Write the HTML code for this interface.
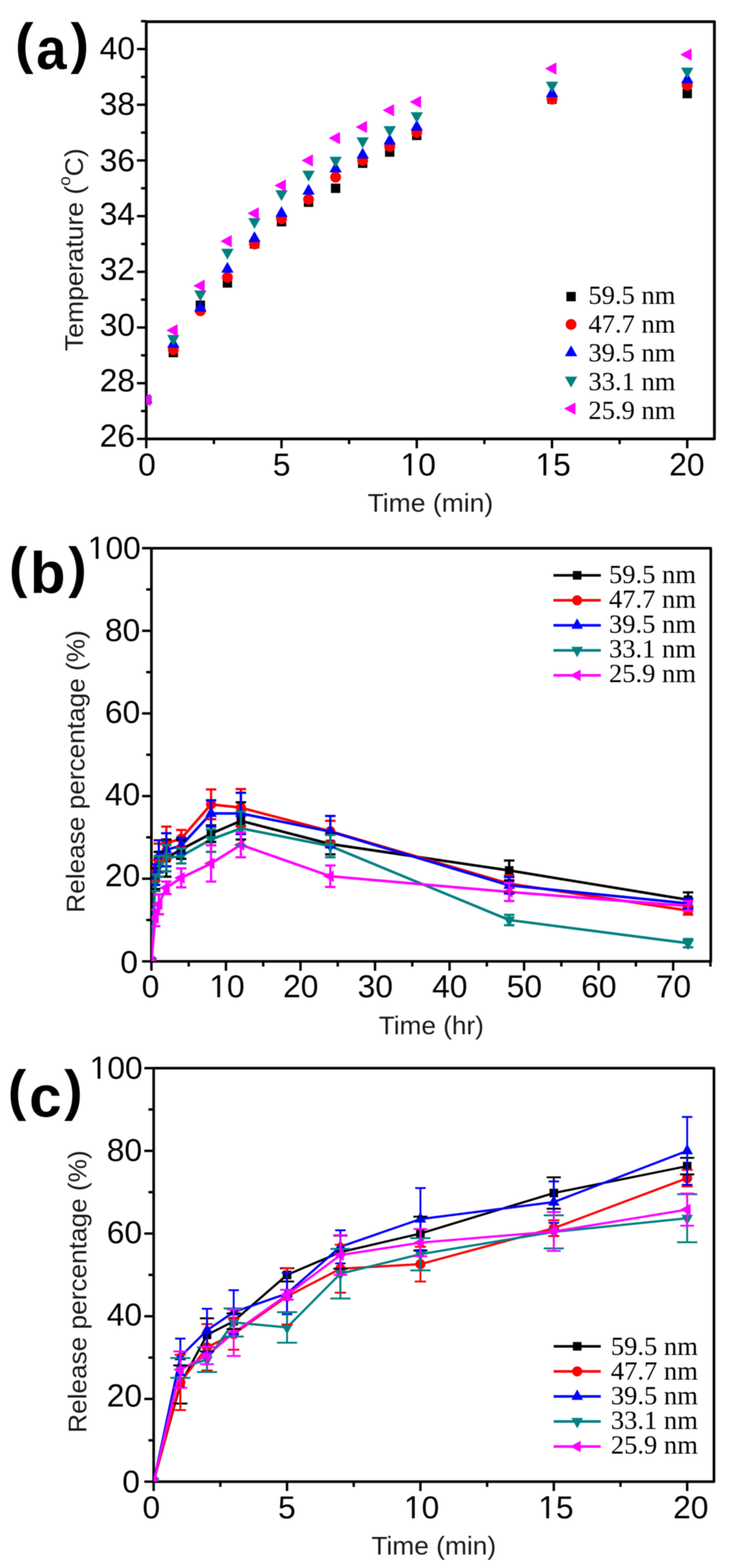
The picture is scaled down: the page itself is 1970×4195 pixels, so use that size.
<!DOCTYPE html>
<html lang="en">
<head>
<meta charset="utf-8">
<title>Temperature and release percentage versus time</title>
<style>
html, body { margin: 0; padding: 0; background: #ffffff; }
body { width: 1970px; height: 4195px; overflow: hidden; }
svg { display: block; }
</style>
</head>
<body>
<svg width="1970" height="4195" viewBox="0 0 1970 4195">
<rect width="1970" height="4195" fill="#ffffff"/>
<defs>
<filter id="soft" x="0" y="0" width="1970" height="4195" filterUnits="userSpaceOnUse" color-interpolation-filters="sRGB"><feGaussianBlur stdDeviation="1.1"/></filter>
<clipPath id="one-mid2"><path d="M-200 -100H200V40H-200Z M-43.27 -7.95H-25.95V2H-43.27Z M-18.34 -7.95H-2.15V2H-18.34Z" clip-rule="evenodd"/></clipPath>
<clipPath id="one-end3"><path d="M-200 -100H200V40H-200Z M-137.82 -7.95H-120.49V2H-137.82Z M-112.88 -7.95H-96.70V2H-112.88Z" clip-rule="evenodd"/></clipPath>
<clipPath id="clip-a"><rect x="391.5" y="58" width="1520.7" height="1116.2"/></clipPath>
<clipPath id="clip-b"><rect x="405.3" y="1466.8" width="1497.2" height="1105.2"/></clipPath>
<clipPath id="clip-c"><rect x="411.3" y="2857.7" width="1499.7" height="1106.3"/></clipPath>
</defs>
<g filter="url(#soft)">
<rect width="1970" height="4195" fill="#ffffff"/>
<!-- panel (a) -->
<g id="panel-a">
<g stroke="#000" stroke-width="7.5" fill="none" stroke-linecap="butt" stroke-linejoin="round">
<rect x="391.5" y="58" width="1520.7" height="1116.2"/>
</g>
<g stroke="#000" stroke-width="6.5" fill="none" stroke-linecap="butt">
<line x1="391.5" y1="1174.2" x2="391.5" y2="1199.2"/>
<line x1="753.5" y1="1174.2" x2="753.5" y2="1199.2"/>
<line x1="1115.5" y1="1174.2" x2="1115.5" y2="1199.2"/>
<line x1="1477.5" y1="1174.2" x2="1477.5" y2="1199.2"/>
<line x1="1839.5" y1="1174.2" x2="1839.5" y2="1199.2"/>
<line x1="572.5" y1="1174.2" x2="572.5" y2="1188.2"/>
<line x1="934.5" y1="1174.2" x2="934.5" y2="1188.2"/>
<line x1="1296.5" y1="1174.2" x2="1296.5" y2="1188.2"/>
<line x1="1658.5" y1="1174.2" x2="1658.5" y2="1188.2"/>
<line x1="391.5" y1="1174.2" x2="366.5" y2="1174.2"/>
<line x1="391.5" y1="1025.2" x2="366.5" y2="1025.2"/>
<line x1="391.5" y1="876.2" x2="366.5" y2="876.2"/>
<line x1="391.5" y1="727.2" x2="366.5" y2="727.2"/>
<line x1="391.5" y1="578.2" x2="366.5" y2="578.2"/>
<line x1="391.5" y1="429.2" x2="366.5" y2="429.2"/>
<line x1="391.5" y1="280.2" x2="366.5" y2="280.2"/>
<line x1="391.5" y1="131.2" x2="366.5" y2="131.2"/>
<line x1="391.5" y1="1099.7" x2="377.5" y2="1099.7"/>
<line x1="391.5" y1="950.7" x2="377.5" y2="950.7"/>
<line x1="391.5" y1="801.7" x2="377.5" y2="801.7"/>
<line x1="391.5" y1="652.7" x2="377.5" y2="652.7"/>
<line x1="391.5" y1="503.7" x2="377.5" y2="503.7"/>
<line x1="391.5" y1="354.7" x2="377.5" y2="354.7"/>
<line x1="391.5" y1="205.7" x2="377.5" y2="205.7"/>
<line x1="391.5" y1="56.7" x2="377.5" y2="56.7"/>
</g>
<g clip-path="url(#clip-a)">
<g><rect x="379" y="1057.4" width="25" height="25" fill="#000000"/>
<rect x="451.4" y="930.8" width="25" height="25" fill="#000000"/>
<rect x="523.8" y="804.1" width="25" height="25" fill="#000000"/>
<rect x="596.2" y="744.5" width="25" height="25" fill="#000000"/>
<rect x="668.6" y="640.2" width="25" height="25" fill="#000000"/>
<rect x="741" y="580.6" width="25" height="25" fill="#000000"/>
<rect x="813.4" y="528.5" width="25" height="25" fill="#000000"/>
<rect x="885.8" y="491.2" width="25" height="25" fill="#000000"/>
<rect x="958.2" y="424.2" width="25" height="25" fill="#000000"/>
<rect x="1030.6" y="394.4" width="25" height="25" fill="#000000"/>
<rect x="1103" y="349.7" width="25" height="25" fill="#000000"/>
<rect x="1465" y="252.8" width="25" height="25" fill="#000000"/>
<rect x="1827" y="237.9" width="25" height="25" fill="#000000"/></g>
<g><circle cx="391.5" cy="1069.9" r="14.5" fill="#ff0000"/>
<circle cx="463.9" cy="935.8" r="14.5" fill="#ff0000"/>
<circle cx="536.3" cy="831.5" r="14.5" fill="#ff0000"/>
<circle cx="608.7" cy="742.1" r="14.5" fill="#ff0000"/>
<circle cx="681.1" cy="652.7" r="14.5" fill="#ff0000"/>
<circle cx="753.5" cy="585.7" r="14.5" fill="#ff0000"/>
<circle cx="825.9" cy="533.5" r="14.5" fill="#ff0000"/>
<circle cx="898.3" cy="473.9" r="14.5" fill="#ff0000"/>
<circle cx="970.7" cy="429.2" r="14.5" fill="#ff0000"/>
<circle cx="1043.1" cy="392" r="14.5" fill="#ff0000"/>
<circle cx="1115.5" cy="354.7" r="14.5" fill="#ff0000"/>
<circle cx="1477.5" cy="265.3" r="14.5" fill="#ff0000"/>
<circle cx="1839.5" cy="228" r="14.5" fill="#ff0000"/></g>
<g><polygon points="391.5,1050.6 375,1079.6 408,1079.6" fill="#0000ff"/>
<polygon points="463.9,901.6 447.4,930.6 480.4,930.6" fill="#0000ff"/>
<polygon points="536.3,804.7 519.8,833.7 552.8,833.7" fill="#0000ff"/>
<polygon points="608.7,700.4 592.2,729.4 625.2,729.4" fill="#0000ff"/>
<polygon points="681.1,618.5 664.6,647.5 697.6,647.5" fill="#0000ff"/>
<polygon points="753.5,551.4 737,580.4 770,580.4" fill="#0000ff"/>
<polygon points="825.9,491.8 809.4,520.8 842.4,520.8" fill="#0000ff"/>
<polygon points="898.3,432.2 881.8,461.2 914.8,461.2" fill="#0000ff"/>
<polygon points="970.7,395 954.2,424 987.2,424" fill="#0000ff"/>
<polygon points="1043.1,357.7 1026.6,386.7 1059.6,386.7" fill="#0000ff"/>
<polygon points="1115.5,320.5 1099,349.5 1132,349.5" fill="#0000ff"/>
<polygon points="1477.5,231.1 1461,260.1 1494,260.1" fill="#0000ff"/>
<polygon points="1839.5,193.8 1823,222.8 1856,222.8" fill="#0000ff"/></g>
<g><polygon points="391.5,1089.2 375,1060.2 408,1060.2" fill="#008080"/>
<polygon points="463.9,925.3 447.4,896.3 480.4,896.3" fill="#008080"/>
<polygon points="536.3,806.1 519.8,777.1 552.8,777.1" fill="#008080"/>
<polygon points="608.7,694.4 592.2,665.4 625.2,665.4" fill="#008080"/>
<polygon points="681.1,612.4 664.6,583.4 697.6,583.4" fill="#008080"/>
<polygon points="753.5,537.9 737,508.9 770,508.9" fill="#008080"/>
<polygon points="825.9,485.8 809.4,456.8 842.4,456.8" fill="#008080"/>
<polygon points="898.3,448.5 881.8,419.5 914.8,419.5" fill="#008080"/>
<polygon points="970.7,396.4 954.2,367.4 987.2,367.4" fill="#008080"/>
<polygon points="1043.1,366.6 1026.6,337.6 1059.6,337.6" fill="#008080"/>
<polygon points="1115.5,329.3 1099,300.3 1132,300.3" fill="#008080"/>
<polygon points="1477.5,247.4 1461,218.4 1494,218.4" fill="#008080"/>
<polygon points="1839.5,210.1 1823,181.1 1856,181.1" fill="#008080"/></g>
<g><polygon points="372.7,1069.9 403.2,1053.4 403.2,1086.4" fill="#ff00ff"/>
<polygon points="445.1,883.7 475.6,867.2 475.6,900.2" fill="#ff00ff"/>
<polygon points="517.5,764.5 548,748 548,781" fill="#ff00ff"/>
<polygon points="589.9,645.2 620.4,628.7 620.4,661.7" fill="#ff00ff"/>
<polygon points="662.3,570.7 692.8,554.2 692.8,587.2" fill="#ff00ff"/>
<polygon points="734.7,496.2 765.2,479.7 765.2,512.7" fill="#ff00ff"/>
<polygon points="807.1,429.2 837.6,412.7 837.6,445.7" fill="#ff00ff"/>
<polygon points="879.5,369.6 910,353.1 910,386.1" fill="#ff00ff"/>
<polygon points="951.9,339.8 982.4,323.3 982.4,356.3" fill="#ff00ff"/>
<polygon points="1024.3,295.1 1054.8,278.6 1054.8,311.6" fill="#ff00ff"/>
<polygon points="1096.7,272.7 1127.2,256.2 1127.2,289.2" fill="#ff00ff"/>
<polygon points="1458.7,183.4 1489.2,166.9 1489.2,199.9" fill="#ff00ff"/>
<polygon points="1820.7,146.1 1851.2,129.6 1851.2,162.6" fill="#ff00ff"/></g>
</g>
<text transform="translate(393.4 1272)" font-family='"Liberation Sans", sans-serif' font-size="85" font-weight="normal" text-anchor="middle" fill="#000">0</text>
<text transform="translate(754 1272)" font-family='"Liberation Sans", sans-serif' font-size="85" font-weight="normal" text-anchor="middle" fill="#000">5</text>
<text transform="translate(1119.5 1272)" font-family='"Liberation Sans", sans-serif' font-size="85" font-weight="normal" text-anchor="middle" fill="#000" clip-path="url(#one-mid2)">10</text>
<text transform="translate(1480.5 1272)" font-family='"Liberation Sans", sans-serif' font-size="85" font-weight="normal" text-anchor="middle" fill="#000" clip-path="url(#one-mid2)">15</text>
<text transform="translate(1838.5 1272)" font-family='"Liberation Sans", sans-serif' font-size="85" font-weight="normal" text-anchor="middle" fill="#000">20</text>
<text transform="translate(361.3 158.1)" font-family='"Liberation Sans", sans-serif' font-size="85" font-weight="normal" text-anchor="end" fill="#000">40</text>
<text transform="translate(361.3 307.2)" font-family='"Liberation Sans", sans-serif' font-size="85" font-weight="normal" text-anchor="end" fill="#000">38</text>
<text transform="translate(361.3 458.2)" font-family='"Liberation Sans", sans-serif' font-size="85" font-weight="normal" text-anchor="end" fill="#000">36</text>
<text transform="translate(361.3 600.8)" font-family='"Liberation Sans", sans-serif' font-size="85" font-weight="normal" text-anchor="end" fill="#000">34</text>
<text transform="translate(361.3 749.4)" font-family='"Liberation Sans", sans-serif' font-size="85" font-weight="normal" text-anchor="end" fill="#000">32</text>
<text transform="translate(361.3 898.2)" font-family='"Liberation Sans", sans-serif' font-size="85" font-weight="normal" text-anchor="end" fill="#000">30</text>
<text transform="translate(361.3 1047.3)" font-family='"Liberation Sans", sans-serif' font-size="85" font-weight="normal" text-anchor="end" fill="#000">28</text>
<text transform="translate(361.3 1194.9)" font-family='"Liberation Sans", sans-serif' font-size="85" font-weight="normal" text-anchor="end" fill="#000">26</text>
<text transform="translate(1152 1369) scale(1.028 1)" font-family='"Liberation Sans", sans-serif' font-size="69" font-weight="normal" text-anchor="middle" fill="#1a1a1a">Time (min)</text>
<text transform="translate(221.5 668) rotate(-90) scale(1.03 1)" font-family='"Liberation Sans", sans-serif' font-size="69" font-weight="normal" text-anchor="middle" fill="#1a1a1a">Temperature (<tspan font-size="44" dy="-34">o</tspan><tspan dy="34">C)</tspan></text>
<text font-family='"Liberation Sans", sans-serif' font-weight="bold" fill="#000"><tspan x="40.5" y="167" font-size="148">(</tspan><tspan x="96.9" y="184" font-size="156" textLength="81.1" lengthAdjust="spacingAndGlyphs">a</tspan><tspan x="188.7" y="167" font-size="148">)</tspan></text>
<rect x="1516" y="781" width="25" height="25" fill="#000000"/>
<text transform="translate(1575 813) scale(1.015 1)" font-family='"Liberation Serif", serif' font-size="70" font-weight="normal" text-anchor="start" fill="#000">59.5 nm</text>
<circle cx="1528.5" cy="868" r="14.5" fill="#ff0000"/>
<text transform="translate(1575 890) scale(1.015 1)" font-family='"Liberation Serif", serif' font-size="70" font-weight="normal" text-anchor="start" fill="#000">47.7 nm</text>
<polygon points="1528.5,923.9 1512,952.9 1545,952.9" fill="#0000ff"/>
<text transform="translate(1575 967) scale(1.015 1)" font-family='"Liberation Serif", serif' font-size="70" font-weight="normal" text-anchor="start" fill="#000">39.5 nm</text>
<polygon points="1528.5,1036.8 1512,1007.8 1545,1007.8" fill="#008080"/>
<text transform="translate(1575 1044) scale(1.015 1)" font-family='"Liberation Serif", serif' font-size="70" font-weight="normal" text-anchor="start" fill="#000">33.1 nm</text>
<polygon points="1509.7,1093.2 1540.2,1076.7 1540.2,1109.7" fill="#ff00ff"/>
<text transform="translate(1575 1121) scale(1.015 1)" font-family='"Liberation Serif", serif' font-size="70" font-weight="normal" text-anchor="start" fill="#000">25.9 nm</text>
</g>
<!-- panel (b) -->
<g id="panel-b">
<g stroke="#000" stroke-width="7" fill="none" stroke-linecap="butt" stroke-linejoin="round">
<rect x="405.3" y="1466.8" width="1497.2" height="1105.2"/>
</g>
<g stroke="#000" stroke-width="6.5" fill="none" stroke-linecap="butt">
<line x1="405.3" y1="2572" x2="405.3" y2="2597"/>
<line x1="604.8" y1="2572" x2="604.8" y2="2597"/>
<line x1="804.3" y1="2572" x2="804.3" y2="2597"/>
<line x1="1003.8" y1="2572" x2="1003.8" y2="2597"/>
<line x1="1203.3" y1="2572" x2="1203.3" y2="2597"/>
<line x1="1402.8" y1="2572" x2="1402.8" y2="2597"/>
<line x1="1602.3" y1="2572" x2="1602.3" y2="2597"/>
<line x1="1801.8" y1="2572" x2="1801.8" y2="2597"/>
<line x1="505.1" y1="2572" x2="505.1" y2="2586"/>
<line x1="704.5" y1="2572" x2="704.5" y2="2586"/>
<line x1="904" y1="2572" x2="904" y2="2586"/>
<line x1="1103.5" y1="2572" x2="1103.5" y2="2586"/>
<line x1="1303" y1="2572" x2="1303" y2="2586"/>
<line x1="1502.5" y1="2572" x2="1502.5" y2="2586"/>
<line x1="1702" y1="2572" x2="1702" y2="2586"/>
<line x1="1901.5" y1="2572" x2="1901.5" y2="2586"/>
<line x1="405.3" y1="2572" x2="380.3" y2="2572"/>
<line x1="405.3" y1="2350.9" x2="380.3" y2="2350.9"/>
<line x1="405.3" y1="2129.8" x2="380.3" y2="2129.8"/>
<line x1="405.3" y1="1908.7" x2="380.3" y2="1908.7"/>
<line x1="405.3" y1="1687.6" x2="380.3" y2="1687.6"/>
<line x1="405.3" y1="1466.5" x2="380.3" y2="1466.5"/>
<line x1="405.3" y1="2461.4" x2="391.3" y2="2461.4"/>
<line x1="405.3" y1="2240.3" x2="391.3" y2="2240.3"/>
<line x1="405.3" y1="2019.2" x2="391.3" y2="2019.2"/>
<line x1="405.3" y1="1798.2" x2="391.3" y2="1798.2"/>
<line x1="405.3" y1="1577.1" x2="391.3" y2="1577.1"/>
</g>
<g clip-path="url(#clip-b)">
<g><polyline points="405.3,2572 415.3,2350.9 425.2,2306.7 445.2,2295.6 485.1,2272.4 564.9,2230.4 644.7,2196.1 884.1,2258 1362.9,2328.8 1841.7,2407.3" fill="none" stroke="#000000" stroke-width="7" stroke-linejoin="round"/>
<rect x="393.8" y="2560.5" width="23" height="23" fill="#000000"/>
<rect x="403.8" y="2339.4" width="23" height="23" fill="#000000"/>
<rect x="413.8" y="2295.2" width="23" height="23" fill="#000000"/>
<rect x="433.7" y="2284.1" width="23" height="23" fill="#000000"/>
<rect x="473.6" y="2260.9" width="23" height="23" fill="#000000"/>
<rect x="553.4" y="2218.9" width="23" height="23" fill="#000000"/>
<rect x="633.2" y="2184.6" width="23" height="23" fill="#000000"/>
<rect x="872.6" y="2246.5" width="23" height="23" fill="#000000"/>
<rect x="1351.4" y="2317.3" width="23" height="23" fill="#000000"/>
<rect x="1830.2" y="2395.8" width="23" height="23" fill="#000000"/></g>
<g><polyline points="405.3,2572 415.3,2328.8 425.2,2295.6 445.2,2255.8 485.1,2243.7 564.9,2151.9 644.7,2160.8 884.1,2223.8 1362.9,2364.2 1841.7,2436" fill="none" stroke="#ff0000" stroke-width="7" stroke-linejoin="round"/>
<circle cx="405.3" cy="2572" r="13.5" fill="#ff0000"/>
<circle cx="415.3" cy="2328.8" r="13.5" fill="#ff0000"/>
<circle cx="425.2" cy="2295.6" r="13.5" fill="#ff0000"/>
<circle cx="445.2" cy="2255.8" r="13.5" fill="#ff0000"/>
<circle cx="485.1" cy="2243.7" r="13.5" fill="#ff0000"/>
<circle cx="564.9" cy="2151.9" r="13.5" fill="#ff0000"/>
<circle cx="644.7" cy="2160.8" r="13.5" fill="#ff0000"/>
<circle cx="884.1" cy="2223.8" r="13.5" fill="#ff0000"/>
<circle cx="1362.9" cy="2364.2" r="13.5" fill="#ff0000"/>
<circle cx="1841.7" cy="2436" r="13.5" fill="#ff0000"/></g>
<g><polyline points="405.3,2572 415.3,2339.8 425.2,2290.1 445.2,2273.5 485.1,2262.5 564.9,2176.2 644.7,2176.2 884.1,2224.9 1362.9,2368.6 1841.7,2417.2" fill="none" stroke="#0000ff" stroke-width="7" stroke-linejoin="round"/>
<polygon points="405.3,2553.3 389.8,2581.3 420.8,2581.3" fill="#0000ff"/>
<polygon points="415.3,2321.2 399.8,2349.2 430.8,2349.2" fill="#0000ff"/>
<polygon points="425.2,2271.4 409.8,2299.4 440.8,2299.4" fill="#0000ff"/>
<polygon points="445.2,2254.8 429.7,2282.8 460.7,2282.8" fill="#0000ff"/>
<polygon points="485.1,2243.8 469.6,2271.8 500.6,2271.8" fill="#0000ff"/>
<polygon points="564.9,2157.6 549.4,2185.6 580.4,2185.6" fill="#0000ff"/>
<polygon points="644.7,2157.6 629.2,2185.6 660.2,2185.6" fill="#0000ff"/>
<polygon points="884.1,2206.2 868.6,2234.2 899.6,2234.2" fill="#0000ff"/>
<polygon points="1362.9,2349.9 1347.4,2377.9 1378.4,2377.9" fill="#0000ff"/>
<polygon points="1841.7,2398.6 1826.2,2426.6 1857.2,2426.6" fill="#0000ff"/></g>
<g><polyline points="405.3,2572 415.3,2362 425.2,2317.7 445.2,2295.6 485.1,2290.1 564.9,2245.9 644.7,2216 884.1,2263.6 1362.9,2461.4 1841.7,2523.4" fill="none" stroke="#008080" stroke-width="7" stroke-linejoin="round"/>
<polygon points="405.3,2590.7 389.8,2562.7 420.8,2562.7" fill="#008080"/>
<polygon points="415.3,2380.6 399.8,2352.6 430.8,2352.6" fill="#008080"/>
<polygon points="425.2,2336.4 409.8,2308.4 440.8,2308.4" fill="#008080"/>
<polygon points="445.2,2314.3 429.7,2286.3 460.7,2286.3" fill="#008080"/>
<polygon points="485.1,2308.8 469.6,2280.8 500.6,2280.8" fill="#008080"/>
<polygon points="564.9,2264.5 549.4,2236.5 580.4,2236.5" fill="#008080"/>
<polygon points="644.7,2234.7 629.2,2206.7 660.2,2206.7" fill="#008080"/>
<polygon points="884.1,2282.2 868.6,2254.2 899.6,2254.2" fill="#008080"/>
<polygon points="1362.9,2480.1 1347.4,2452.1 1378.4,2452.1" fill="#008080"/>
<polygon points="1841.7,2542 1826.2,2514 1857.2,2514" fill="#008080"/></g>
<g><polyline points="405.3,2572 415.3,2455.9 425.2,2419.4 445.2,2375.2 485.1,2348.7 564.9,2310 644.7,2260.2 884.1,2344.3 1362.9,2386.3 1841.7,2423.9" fill="none" stroke="#ff00ff" stroke-width="7" stroke-linejoin="round"/>
<polygon points="386.6,2572 414.6,2556.5 414.6,2587.5" fill="#ff00ff"/>
<polygon points="396.6,2455.9 424.6,2440.4 424.6,2471.4" fill="#ff00ff"/>
<polygon points="406.6,2419.4 434.6,2403.9 434.6,2434.9" fill="#ff00ff"/>
<polygon points="426.5,2375.2 454.5,2359.7 454.5,2390.7" fill="#ff00ff"/>
<polygon points="466.4,2348.7 494.4,2333.2 494.4,2364.2" fill="#ff00ff"/>
<polygon points="546.2,2310 574.2,2294.5 574.2,2325.5" fill="#ff00ff"/>
<polygon points="626,2260.2 654,2244.7 654,2275.7" fill="#ff00ff"/>
<polygon points="865.4,2344.3 893.4,2328.8 893.4,2359.8" fill="#ff00ff"/>
<polygon points="1344.2,2386.3 1372.2,2370.8 1372.2,2401.8" fill="#ff00ff"/>
<polygon points="1823,2423.9 1851,2408.4 1851,2439.4" fill="#ff00ff"/></g>
<g><path d="M415.3 2323.3V2378.5M401.3 2323.3H429.3M401.3 2378.5H429.3M425.2 2279V2334.3M411.2 2279H439.2M411.2 2334.3H439.2M445.2 2245.9V2345.4M431.2 2245.9H459.2M431.2 2345.4H459.2M485.1 2247V2297.8M471.1 2247H499.1M471.1 2297.8H499.1M564.9 2208.3V2252.5M550.9 2208.3H578.9M550.9 2252.5H578.9M644.7 2146.4V2245.9M630.7 2146.4H658.7M630.7 2245.9H658.7M884.1 2230.4V2285.7M870.1 2230.4H898.1M870.1 2285.7H898.1M1362.9 2302.3V2355.3M1348.9 2302.3H1376.9M1348.9 2355.3H1376.9M1841.7 2387.4V2427.2M1827.7 2387.4H1855.7M1827.7 2427.2H1855.7" fill="none" stroke="#000000" stroke-width="6"/>
<path d="M415.3 2301.2V2356.4M401.3 2301.2H429.3M401.3 2356.4H429.3M425.2 2256.9V2334.3M411.2 2256.9H439.2M411.2 2334.3H439.2M445.2 2211.6V2300M431.2 2211.6H459.2M431.2 2300H459.2M485.1 2220.5V2266.9M471.1 2220.5H499.1M471.1 2266.9H499.1M564.9 2112.1V2191.7M550.9 2112.1H578.9M550.9 2191.7H578.9M644.7 2111V2210.5M630.7 2111H658.7M630.7 2210.5H658.7M884.1 2196.1V2251.4M870.1 2196.1H898.1M870.1 2251.4H898.1M1362.9 2342.1V2386.3M1348.9 2342.1H1376.9M1348.9 2386.3H1376.9M1841.7 2425V2447.1M1827.7 2425H1855.7M1827.7 2447.1H1855.7" fill="none" stroke="#ff0000" stroke-width="6"/>
<path d="M415.3 2312.2V2367.5M401.3 2312.2H429.3M401.3 2367.5H429.3M425.2 2248.1V2332.1M411.2 2248.1H439.2M411.2 2332.1H439.2M445.2 2229.3V2317.7M431.2 2229.3H459.2M431.2 2317.7H459.2M485.1 2241.5V2283.5M471.1 2241.5H499.1M471.1 2283.5H499.1M564.9 2140.9V2211.6M550.9 2140.9H578.9M550.9 2211.6H578.9M644.7 2121V2231.5M630.7 2121H658.7M630.7 2231.5H658.7M884.1 2182.9V2266.9M870.1 2182.9H898.1M870.1 2266.9H898.1M1362.9 2346.5V2390.7M1348.9 2346.5H1376.9M1348.9 2390.7H1376.9M1841.7 2404V2430.5M1827.7 2404H1855.7M1827.7 2430.5H1855.7" fill="none" stroke="#0000ff" stroke-width="6"/>
<path d="M415.3 2339.8V2384.1M401.3 2339.8H429.3M401.3 2384.1H429.3M425.2 2290.1V2345.4M411.2 2290.1H439.2M411.2 2345.4H439.2M445.2 2260.2V2331M431.2 2260.2H459.2M431.2 2331H459.2M485.1 2270.2V2310M471.1 2270.2H499.1M471.1 2310H499.1M564.9 2219.3V2279M550.9 2219.3H578.9M550.9 2279H578.9M644.7 2170.7V2261.4M630.7 2170.7H658.7M630.7 2261.4H658.7M884.1 2233.7V2293.4M870.1 2233.7H898.1M870.1 2293.4H898.1M1362.9 2447.6V2475.3M1348.9 2447.6H1376.9M1348.9 2475.3H1376.9M1841.7 2512.3V2534.4M1827.7 2512.3H1855.7M1827.7 2534.4H1855.7" fill="none" stroke="#008080" stroke-width="6"/>
<path d="M415.3 2433.8V2478M401.3 2433.8H429.3M401.3 2478H429.3M425.2 2392.9V2446M411.2 2392.9H439.2M411.2 2446H439.2M445.2 2358.6V2391.8M431.2 2358.6H459.2M431.2 2391.8H459.2M485.1 2323.3V2374.1M471.1 2323.3H499.1M471.1 2374.1H499.1M564.9 2261.4V2358.6M550.9 2261.4H578.9M550.9 2358.6H578.9M644.7 2227.1V2293.4M630.7 2227.1H658.7M630.7 2293.4H658.7M884.1 2315.5V2373M870.1 2315.5H898.1M870.1 2373H898.1M1362.9 2362V2410.6M1348.9 2362H1376.9M1348.9 2410.6H1376.9M1841.7 2410.6V2437.1M1827.7 2410.6H1855.7M1827.7 2437.1H1855.7" fill="none" stroke="#ff00ff" stroke-width="6"/></g>
</g>
<text transform="translate(403 2668)" font-family='"Liberation Sans", sans-serif' font-size="85" font-weight="normal" text-anchor="middle" fill="#000">0</text>
<text transform="translate(607.5 2668)" font-family='"Liberation Sans", sans-serif' font-size="85" font-weight="normal" text-anchor="middle" fill="#000" clip-path="url(#one-mid2)">10</text>
<text transform="translate(805 2668)" font-family='"Liberation Sans", sans-serif' font-size="85" font-weight="normal" text-anchor="middle" fill="#000">20</text>
<text transform="translate(1004.5 2668)" font-family='"Liberation Sans", sans-serif' font-size="85" font-weight="normal" text-anchor="middle" fill="#000">30</text>
<text transform="translate(1204 2668)" font-family='"Liberation Sans", sans-serif' font-size="85" font-weight="normal" text-anchor="middle" fill="#000">40</text>
<text transform="translate(1403.5 2668)" font-family='"Liberation Sans", sans-serif' font-size="85" font-weight="normal" text-anchor="middle" fill="#000">50</text>
<text transform="translate(1603 2668)" font-family='"Liberation Sans", sans-serif' font-size="85" font-weight="normal" text-anchor="middle" fill="#000">60</text>
<text transform="translate(1802.5 2668)" font-family='"Liberation Sans", sans-serif' font-size="85" font-weight="normal" text-anchor="middle" fill="#000">70</text>
<text transform="translate(376.7 1494.8)" font-family='"Liberation Sans", sans-serif' font-size="85" font-weight="normal" text-anchor="end" fill="#000" clip-path="url(#one-end3)">100</text>
<text transform="translate(375.2 1714.9)" font-family='"Liberation Sans", sans-serif' font-size="85" font-weight="normal" text-anchor="end" fill="#000">80</text>
<text transform="translate(375.2 1934.4)" font-family='"Liberation Sans", sans-serif' font-size="85" font-weight="normal" text-anchor="end" fill="#000">60</text>
<text transform="translate(375.2 2153.6)" font-family='"Liberation Sans", sans-serif' font-size="85" font-weight="normal" text-anchor="end" fill="#000">40</text>
<text transform="translate(375.2 2371.4)" font-family='"Liberation Sans", sans-serif' font-size="85" font-weight="normal" text-anchor="end" fill="#000">20</text>
<text transform="translate(369.4 2602.7)" font-family='"Liberation Sans", sans-serif' font-size="85" font-weight="normal" text-anchor="end" fill="#000">0</text>
<text transform="translate(1154.5 2766.5) scale(1.015 1)" font-family='"Liberation Sans", sans-serif' font-size="69" font-weight="normal" text-anchor="middle" fill="#1a1a1a">Time (hr)</text>
<text transform="translate(225.5 2064) rotate(-90) scale(1.016 1)" font-family='"Liberation Sans", sans-serif' font-size="69" font-weight="normal" text-anchor="middle" fill="#1a1a1a">Release percentage (%)</text>
<text font-family='"Liberation Sans", sans-serif' font-weight="bold" fill="#000"><tspan x="24" y="1569" font-size="148">(</tspan><tspan x="80" y="1586" font-size="156">b</tspan><tspan x="182.7" y="1569" font-size="148">)</tspan></text>
<line x1="1481.3" y1="1539.2" x2="1608.2" y2="1539.2" stroke="#000000" stroke-width="7"/>
<rect x="1533.3" y="1527.7" width="23" height="23" fill="#000000"/>
<text transform="translate(1630 1559.8) scale(1.03 1)" font-family='"Liberation Serif", serif' font-size="69" font-weight="normal" text-anchor="start" fill="#000">59.5 nm</text>
<line x1="1481.3" y1="1606.1" x2="1608.2" y2="1606.1" stroke="#ff0000" stroke-width="7"/>
<circle cx="1544.8" cy="1606.1" r="13.5" fill="#ff0000"/>
<text transform="translate(1630 1626.2) scale(1.03 1)" font-family='"Liberation Serif", serif' font-size="69" font-weight="normal" text-anchor="start" fill="#000">47.7 nm</text>
<line x1="1481.3" y1="1673" x2="1608.2" y2="1673" stroke="#0000ff" stroke-width="7"/>
<polygon points="1544.8,1654.3 1529.3,1682.3 1560.3,1682.3" fill="#0000ff"/>
<text transform="translate(1630 1692.6) scale(1.03 1)" font-family='"Liberation Serif", serif' font-size="69" font-weight="normal" text-anchor="start" fill="#000">39.5 nm</text>
<line x1="1481.3" y1="1739.9" x2="1608.2" y2="1739.9" stroke="#008080" stroke-width="7"/>
<polygon points="1544.8,1758.6 1529.3,1730.6 1560.3,1730.6" fill="#008080"/>
<text transform="translate(1630 1759) scale(1.03 1)" font-family='"Liberation Serif", serif' font-size="69" font-weight="normal" text-anchor="start" fill="#000">33.1 nm</text>
<line x1="1481.3" y1="1806.8" x2="1608.2" y2="1806.8" stroke="#ff00ff" stroke-width="7"/>
<polygon points="1526.1,1806.8 1554.1,1791.3 1554.1,1822.3" fill="#ff00ff"/>
<text transform="translate(1630 1825.4) scale(1.03 1)" font-family='"Liberation Serif", serif' font-size="69" font-weight="normal" text-anchor="start" fill="#000">25.9 nm</text>
</g>
<!-- panel (c) -->
<g id="panel-c">
<g stroke="#000" stroke-width="7" fill="none" stroke-linecap="butt" stroke-linejoin="round">
<rect x="411.3" y="2857.7" width="1499.7" height="1106.3"/>
</g>
<g stroke="#000" stroke-width="6.5" fill="none" stroke-linecap="butt">
<line x1="411.3" y1="3964" x2="411.3" y2="3989"/>
<line x1="768.3" y1="3964" x2="768.3" y2="3989"/>
<line x1="1125.3" y1="3964" x2="1125.3" y2="3989"/>
<line x1="1482.3" y1="3964" x2="1482.3" y2="3989"/>
<line x1="1839.3" y1="3964" x2="1839.3" y2="3989"/>
<line x1="589.8" y1="3964" x2="589.8" y2="3978"/>
<line x1="946.8" y1="3964" x2="946.8" y2="3978"/>
<line x1="1303.8" y1="3964" x2="1303.8" y2="3978"/>
<line x1="1660.8" y1="3964" x2="1660.8" y2="3978"/>
<line x1="411.3" y1="3964" x2="386.3" y2="3964"/>
<line x1="411.3" y1="3742.7" x2="386.3" y2="3742.7"/>
<line x1="411.3" y1="3521.5" x2="386.3" y2="3521.5"/>
<line x1="411.3" y1="3300.2" x2="386.3" y2="3300.2"/>
<line x1="411.3" y1="3079" x2="386.3" y2="3079"/>
<line x1="411.3" y1="2857.7" x2="386.3" y2="2857.7"/>
<line x1="411.3" y1="3853.4" x2="397.3" y2="3853.4"/>
<line x1="411.3" y1="3632.1" x2="397.3" y2="3632.1"/>
<line x1="411.3" y1="3410.8" x2="397.3" y2="3410.8"/>
<line x1="411.3" y1="3189.6" x2="397.3" y2="3189.6"/>
<line x1="411.3" y1="2968.3" x2="397.3" y2="2968.3"/>
</g>
<g clip-path="url(#clip-c)">
<g><polyline points="411.3,3964 482.7,3704 554.1,3571.3 625.5,3534.8 768.3,3410.8 911.1,3350 1125.3,3300.2 1482.3,3191.8 1839.3,3119.9" fill="none" stroke="#000000" stroke-width="6" stroke-linejoin="round"/>
<rect x="399.8" y="3952.5" width="23" height="23" fill="#000000"/>
<rect x="471.2" y="3692.5" width="23" height="23" fill="#000000"/>
<rect x="542.6" y="3559.8" width="23" height="23" fill="#000000"/>
<rect x="614" y="3523.3" width="23" height="23" fill="#000000"/>
<rect x="756.8" y="3399.3" width="23" height="23" fill="#000000"/>
<rect x="899.6" y="3338.5" width="23" height="23" fill="#000000"/>
<rect x="1113.8" y="3288.7" width="23" height="23" fill="#000000"/>
<rect x="1470.8" y="3180.3" width="23" height="23" fill="#000000"/>
<rect x="1827.8" y="3108.4" width="23" height="23" fill="#000000"/></g>
<g><polyline points="411.3,3964 482.7,3698.5 554.1,3604.5 625.5,3569.1 768.3,3468.4 911.1,3394.3 1125.3,3382.1 1482.3,3285.8 1839.3,3152" fill="none" stroke="#ff0000" stroke-width="6" stroke-linejoin="round"/>
<circle cx="411.3" cy="3964" r="13.5" fill="#ff0000"/>
<circle cx="482.7" cy="3698.5" r="13.5" fill="#ff0000"/>
<circle cx="554.1" cy="3604.5" r="13.5" fill="#ff0000"/>
<circle cx="625.5" cy="3569.1" r="13.5" fill="#ff0000"/>
<circle cx="768.3" cy="3468.4" r="13.5" fill="#ff0000"/>
<circle cx="911.1" cy="3394.3" r="13.5" fill="#ff0000"/>
<circle cx="1125.3" cy="3382.1" r="13.5" fill="#ff0000"/>
<circle cx="1482.3" cy="3285.8" r="13.5" fill="#ff0000"/>
<circle cx="1839.3" cy="3152" r="13.5" fill="#ff0000"/></g>
<g><polyline points="411.3,3964 482.7,3629.9 554.1,3559.1 625.5,3510.4 768.3,3460.6 911.1,3335.6 1125.3,3261.5 1482.3,3216.1 1839.3,3079" fill="none" stroke="#0000ff" stroke-width="6" stroke-linejoin="round"/>
<polygon points="411.3,3945.3 395.8,3973.3 426.8,3973.3" fill="#0000ff"/>
<polygon points="482.7,3611.2 467.2,3639.2 498.2,3639.2" fill="#0000ff"/>
<polygon points="554.1,3540.4 538.6,3568.4 569.6,3568.4" fill="#0000ff"/>
<polygon points="625.5,3491.8 610,3519.8 641,3519.8" fill="#0000ff"/>
<polygon points="768.3,3442 752.8,3470 783.8,3470" fill="#0000ff"/>
<polygon points="911.1,3317 895.6,3345 926.6,3345" fill="#0000ff"/>
<polygon points="1125.3,3242.8 1109.8,3270.8 1140.8,3270.8" fill="#0000ff"/>
<polygon points="1482.3,3197.5 1466.8,3225.5 1497.8,3225.5" fill="#0000ff"/>
<polygon points="1839.3,3060.3 1823.8,3088.3 1854.8,3088.3" fill="#0000ff"/></g>
<g><polyline points="411.3,3964 482.7,3659.8 554.1,3637.6 625.5,3538.1 768.3,3551.4 911.1,3407.5 1125.3,3355.5 1482.3,3295.8 1839.3,3259.3" fill="none" stroke="#008080" stroke-width="6" stroke-linejoin="round"/>
<polygon points="411.3,3982.7 395.8,3954.7 426.8,3954.7" fill="#008080"/>
<polygon points="482.7,3678.4 467.2,3650.4 498.2,3650.4" fill="#008080"/>
<polygon points="554.1,3656.3 538.6,3628.3 569.6,3628.3" fill="#008080"/>
<polygon points="625.5,3556.7 610,3528.7 641,3528.7" fill="#008080"/>
<polygon points="768.3,3570 752.8,3542 783.8,3542" fill="#008080"/>
<polygon points="911.1,3426.2 895.6,3398.2 926.6,3398.2" fill="#008080"/>
<polygon points="1125.3,3374.2 1109.8,3346.2 1140.8,3346.2" fill="#008080"/>
<polygon points="1482.3,3314.5 1466.8,3286.5 1497.8,3286.5" fill="#008080"/>
<polygon points="1839.3,3278 1823.8,3250 1854.8,3250" fill="#008080"/></g>
<g><polyline points="411.3,3964 482.7,3664.2 554.1,3626.6 625.5,3565.7 768.3,3464 911.1,3357.7 1125.3,3324.6 1482.3,3294.7 1839.3,3236.1" fill="none" stroke="#ff00ff" stroke-width="6" stroke-linejoin="round"/>
<polygon points="392.6,3964 420.6,3948.5 420.6,3979.5" fill="#ff00ff"/>
<polygon points="464,3664.2 492,3648.7 492,3679.7" fill="#ff00ff"/>
<polygon points="535.4,3626.6 563.4,3611.1 563.4,3642.1" fill="#ff00ff"/>
<polygon points="606.8,3565.7 634.8,3550.2 634.8,3581.2" fill="#ff00ff"/>
<polygon points="749.6,3464 777.6,3448.5 777.6,3479.5" fill="#ff00ff"/>
<polygon points="892.4,3357.7 920.4,3342.2 920.4,3373.2" fill="#ff00ff"/>
<polygon points="1106.6,3324.6 1134.6,3309.1 1134.6,3340.1" fill="#ff00ff"/>
<polygon points="1463.6,3294.7 1491.6,3279.2 1491.6,3310.2" fill="#ff00ff"/>
<polygon points="1820.6,3236.1 1848.6,3220.6 1848.6,3251.6" fill="#ff00ff"/></g>
<g><path d="M482.7 3653.1V3754.9M463.7 3653.1H501.7M463.7 3754.9H501.7M554.1 3527V3615.5M535.1 3527H573.1M535.1 3615.5H573.1M625.5 3513.7V3555.8M606.5 3513.7H644.5M606.5 3555.8H644.5M768.3 3393.1V3428.6M749.3 3393.1H787.3M749.3 3428.6H787.3M911.1 3305.8V3394.3M892.1 3305.8H930.1M892.1 3394.3H930.1M1125.3 3254.9V3345.6M1106.3 3254.9H1144.3M1106.3 3345.6H1144.3M1482.3 3149.8V3233.8M1463.3 3149.8H1501.3M1463.3 3233.8H1501.3M1839.3 3097.8V3142M1820.3 3097.8H1858.3M1820.3 3142H1858.3" fill="none" stroke="#000000" stroke-width="5"/>
<path d="M482.7 3624.4V3772.6M467.7 3624.4H497.7M467.7 3772.6H497.7M554.1 3542.5V3666.4M539.1 3542.5H569.1M539.1 3666.4H569.1M625.5 3527V3611.1M610.5 3527H640.5M610.5 3611.1H640.5M768.3 3393.1V3543.6M753.3 3393.1H783.3M753.3 3543.6H783.3M911.1 3330.1V3458.4M896.1 3330.1H926.1M896.1 3458.4H926.1M1125.3 3335.6V3428.6M1110.3 3335.6H1140.3M1110.3 3428.6H1140.3M1482.3 3264.8V3306.9M1467.3 3264.8H1497.3M1467.3 3306.9H1497.3M1839.3 3129.8V3174.1M1824.3 3129.8H1854.3M1824.3 3174.1H1854.3" fill="none" stroke="#ff0000" stroke-width="5"/>
<path d="M482.7 3581.2V3678.6M468.7 3581.2H496.7M468.7 3678.6H496.7M554.1 3501.6V3616.6M540.1 3501.6H568.1M540.1 3616.6H568.1M625.5 3451.8V3569.1M611.5 3451.8H639.5M611.5 3569.1H639.5M768.3 3405.3V3515.9M754.3 3405.3H782.3M754.3 3515.9H782.3M911.1 3291.4V3379.9M897.1 3291.4H925.1M897.1 3379.9H925.1M1125.3 3178.5V3344.5M1111.3 3178.5H1139.3M1111.3 3344.5H1139.3M1482.3 3160.8V3271.5M1468.3 3160.8H1496.3M1468.3 3271.5H1496.3M1839.3 2988.2V3169.7M1825.3 2988.2H1853.3M1825.3 3169.7H1853.3" fill="none" stroke="#0000ff" stroke-width="5"/>
<path d="M482.7 3633.2V3686.3M455.7 3633.2H509.7M455.7 3686.3H509.7M554.1 3604.5V3670.8M527.1 3604.5H581.1M527.1 3670.8H581.1M625.5 3500.5V3575.7M598.5 3500.5H652.5M598.5 3575.7H652.5M768.3 3510.4V3592.3M741.3 3510.4H795.3M741.3 3592.3H795.3M911.1 3341.2V3473.9M884.1 3341.2H938.1M884.1 3473.9H938.1M1125.3 3312.4V3398.7M1098.3 3312.4H1152.3M1098.3 3398.7H1152.3M1482.3 3251.5V3340M1455.3 3251.5H1509.3M1455.3 3340H1509.3M1839.3 3195.1V3323.5M1812.3 3195.1H1866.3M1812.3 3323.5H1866.3" fill="none" stroke="#008080" stroke-width="5"/>
<path d="M482.7 3615.5V3712.9M464.2 3615.5H501.2M464.2 3712.9H501.2M554.1 3603.3V3649.8M535.6 3603.3H572.6M535.6 3649.8H572.6M625.5 3503.8V3627.7M607 3503.8H644M607 3627.7H644M768.3 3450.7V3477.2M749.8 3450.7H786.8M749.8 3477.2H786.8M911.1 3304.6V3410.8M892.6 3304.6H929.6M892.6 3410.8H929.6M1125.3 3288.1V3361.1M1106.8 3288.1H1143.8M1106.8 3361.1H1143.8M1482.3 3242.7V3346.7M1463.8 3242.7H1500.8M1463.8 3346.7H1500.8M1839.3 3192.9V3279.2M1820.8 3192.9H1857.8M1820.8 3279.2H1857.8" fill="none" stroke="#ff00ff" stroke-width="5"/></g>
</g>
<text transform="translate(405 4062)" font-family='"Liberation Sans", sans-serif' font-size="85" font-weight="normal" text-anchor="middle" fill="#000">0</text>
<text transform="translate(768 4062)" font-family='"Liberation Sans", sans-serif' font-size="85" font-weight="normal" text-anchor="middle" fill="#000">5</text>
<text transform="translate(1128.5 4062)" font-family='"Liberation Sans", sans-serif' font-size="85" font-weight="normal" text-anchor="middle" fill="#000" clip-path="url(#one-mid2)">10</text>
<text transform="translate(1488 4062)" font-family='"Liberation Sans", sans-serif' font-size="85" font-weight="normal" text-anchor="middle" fill="#000" clip-path="url(#one-mid2)">15</text>
<text transform="translate(1849 4062)" font-family='"Liberation Sans", sans-serif' font-size="85" font-weight="normal" text-anchor="middle" fill="#000">20</text>
<text transform="translate(381.7 2885.6)" font-family='"Liberation Sans", sans-serif' font-size="85" font-weight="normal" text-anchor="end" fill="#000" clip-path="url(#one-end3)">100</text>
<text transform="translate(380.2 3105.5)" font-family='"Liberation Sans", sans-serif' font-size="85" font-weight="normal" text-anchor="end" fill="#000">80</text>
<text transform="translate(380.2 3325.6)" font-family='"Liberation Sans", sans-serif' font-size="85" font-weight="normal" text-anchor="end" fill="#000">60</text>
<text transform="translate(380.2 3545.5)" font-family='"Liberation Sans", sans-serif' font-size="85" font-weight="normal" text-anchor="end" fill="#000">40</text>
<text transform="translate(380.2 3763.3)" font-family='"Liberation Sans", sans-serif' font-size="85" font-weight="normal" text-anchor="end" fill="#000">20</text>
<text transform="translate(374.6 3993.4)" font-family='"Liberation Sans", sans-serif' font-size="85" font-weight="normal" text-anchor="end" fill="#000">0</text>
<text transform="translate(1161 4159) scale(1.021 1)" font-family='"Liberation Sans", sans-serif' font-size="69" font-weight="normal" text-anchor="middle" fill="#1a1a1a">Time (min)</text>
<text transform="translate(231 3455.5) rotate(-90) scale(1.016 1)" font-family='"Liberation Sans", sans-serif' font-size="69" font-weight="normal" text-anchor="middle" fill="#1a1a1a">Release percentage (%)</text>
<text font-family='"Liberation Sans", sans-serif' font-weight="bold" fill="#000"><tspan x="21" y="2968" font-size="148">(</tspan><tspan x="78" y="2986.6" font-size="156">c</tspan><tspan x="171.7" y="2968" font-size="148">)</tspan></text>
<line x1="1482" y1="3601.9" x2="1608" y2="3601.9" stroke="#000000" stroke-width="7"/>
<rect x="1533.5" y="3590.4" width="23" height="23" fill="#000000"/>
<text transform="translate(1635 3624.6) scale(1.03 1)" font-family='"Liberation Serif", serif' font-size="69" font-weight="normal" text-anchor="start" fill="#000">59.5 nm</text>
<line x1="1482" y1="3668.9" x2="1608" y2="3668.9" stroke="#ff0000" stroke-width="7"/>
<circle cx="1545" cy="3668.9" r="13.5" fill="#ff0000"/>
<text transform="translate(1635 3690.8) scale(1.03 1)" font-family='"Liberation Serif", serif' font-size="69" font-weight="normal" text-anchor="start" fill="#000">47.7 nm</text>
<line x1="1482" y1="3735.9" x2="1608" y2="3735.9" stroke="#0000ff" stroke-width="7"/>
<polygon points="1545,3717.2 1529.5,3745.2 1560.5,3745.2" fill="#0000ff"/>
<text transform="translate(1635 3757) scale(1.03 1)" font-family='"Liberation Serif", serif' font-size="69" font-weight="normal" text-anchor="start" fill="#000">39.5 nm</text>
<line x1="1482" y1="3802.9" x2="1608" y2="3802.9" stroke="#008080" stroke-width="7"/>
<polygon points="1545,3821.6 1529.5,3793.6 1560.5,3793.6" fill="#008080"/>
<text transform="translate(1635 3823.2) scale(1.03 1)" font-family='"Liberation Serif", serif' font-size="69" font-weight="normal" text-anchor="start" fill="#000">33.1 nm</text>
<line x1="1482" y1="3869.9" x2="1608" y2="3869.9" stroke="#ff00ff" stroke-width="7"/>
<polygon points="1526.3,3869.9 1554.3,3854.4 1554.3,3885.4" fill="#ff00ff"/>
<text transform="translate(1635 3889.4) scale(1.03 1)" font-family='"Liberation Serif", serif' font-size="69" font-weight="normal" text-anchor="start" fill="#000">25.9 nm</text>
</g>
</g>
</svg>
</body>
</html>
